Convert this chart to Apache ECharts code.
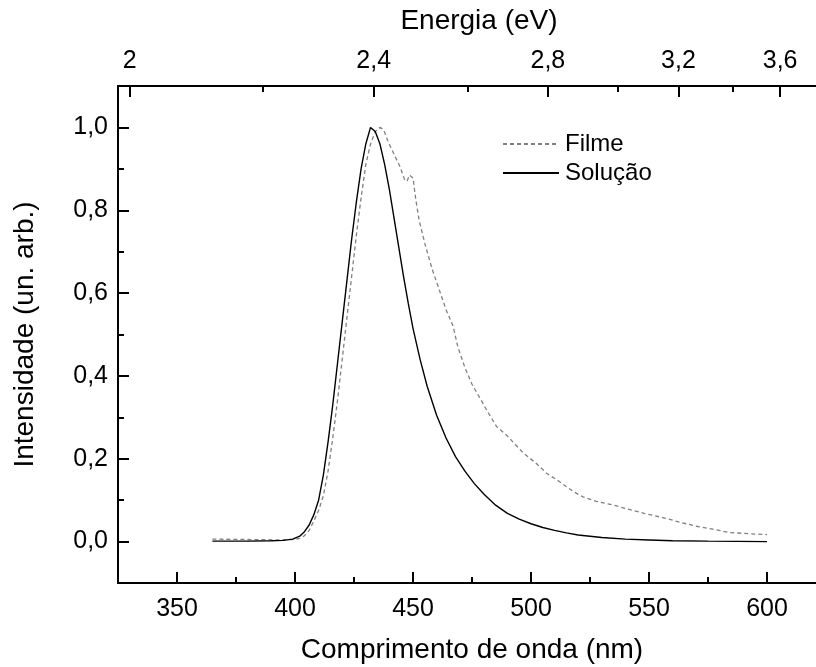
<!DOCTYPE html>
<html>
<head>
<meta charset="utf-8">
<script src="https://cdn.jsdelivr.net/npm/echarts@6/dist/echarts.min.js"></script>
<style>
html,body{margin:0;padding:0;background:#fff;}
#chart{width:816px;height:667px;}
</style>
</head>
<body>
<div id="chart"></div>
<script>
// Wavelength ticks (nm)
var wlMajorTicks = [350, 400, 450, 500, 550, 600];
var wlMinorTicks = [375, 425, 475, 525, 575];
// Energy ticks (eV)
var eMajorTicks = [2, 2.4, 2.8, 3.2, 3.6];
var eMinorTicks = [2.2, 2.6, 3.0, 3.4];
// Intensity ticks
var yMajorTicks = [0, 0.2, 0.4, 0.6, 0.8, 1.0];
var yMinorTicks = [0.1, 0.3, 0.5, 0.7, 0.9];

// Filme (dashed)
var filmeWl = [365, 380, 395, 400, 402, 404, 406, 408, 410, 412, 414, 416, 418, 420, 422, 424, 426, 428, 430, 432, 434, 436, 437.5, 439.5, 442, 444.5, 446.5, 447.5, 448.5, 450, 451.2, 452.6, 455, 458, 461, 464, 467, 469, 472, 475, 478, 482, 485.4, 490, 496.7, 502, 506.6, 512, 517.9, 522, 527.7, 535, 541.9, 548, 555.8, 563, 570, 577, 584, 592, 600];
var filmeI = [0.006, 0.005, 0.004, 0.005, 0.008, 0.014, 0.027, 0.05, 0.075, 0.11, 0.17, 0.25, 0.34, 0.44, 0.54, 0.64, 0.74, 0.83, 0.91, 0.96, 0.99, 1.0, 0.995, 0.965, 0.935, 0.905, 0.873, 0.87, 0.885, 0.878, 0.825, 0.776, 0.72, 0.66, 0.61, 0.56, 0.52, 0.47, 0.42, 0.38, 0.35, 0.31, 0.278, 0.255, 0.214, 0.19, 0.165, 0.145, 0.121, 0.108, 0.097, 0.088, 0.077, 0.068, 0.058, 0.047, 0.037, 0.03, 0.022, 0.019, 0.017];

// Solução (solid)
var solWl = [365, 380, 390, 395, 399, 402, 404, 406, 408, 410, 412, 414, 416, 418, 420, 422, 424, 426, 428, 430, 432, 434, 436, 438, 440, 442, 444, 446, 448, 450, 453, 456, 460, 464, 468, 472, 476, 480, 485, 490, 495, 500, 505, 510, 515, 520, 530, 540, 550, 560, 575, 600];
var solI = [0.001, 0.001, 0.002, 0.003, 0.006, 0.013, 0.024, 0.04, 0.065, 0.10, 0.16, 0.24, 0.33, 0.43, 0.53, 0.63, 0.73, 0.82, 0.90, 0.96, 1.0, 0.99, 0.96, 0.91, 0.85, 0.78, 0.71, 0.64, 0.575, 0.515, 0.44, 0.375, 0.305, 0.25, 0.205, 0.17, 0.14, 0.115, 0.088, 0.068, 0.054, 0.043, 0.034, 0.027, 0.021, 0.016, 0.01, 0.006, 0.004, 0.002, 0.001, 0.0];

var HC = 1240; // eV*nm
function zip(a, b) { return a.map(function (v, i) { return [v, b[i]]; }); }
function energyLabel(v) {
  var r = Math.round(v * 10) / 10;
  return (Number.isInteger(r) ? String(r) : r.toFixed(1)).replace('.', ',');
}
function yLabel(v) { return (Math.round(v * 10) / 10).toFixed(1).replace('.', ','); }

var FONT = '"Liberation Sans", Arial, sans-serif';
var axisLineStyle = { color: '#000', width: 2 };
var tickStyle = { color: '#000', width: 2 };
var XMIN = 325, XMAX = 625;
var GRID_LEFT = 118, GRID_TOP = 86, GRID_W = 708, GRID_H = 497;

function tickAxis(pos, ticks, len, extra) {
  var a = {
    type: 'value', position: pos,
    axisLine: { show: true, onZero: false, lineStyle: { color: '#000', width: 0 } },
    axisTick: { show: true, inside: true, length: len, customValues: ticks, lineStyle: { color: '#000', width: 2 } },
    axisLabel: { show: false },
    splitLine: { show: false }
  };
  for (var k in extra) a[k] = extra[k];
  return a;
}
// bottom-frame ticks: top-side axis of a thin helper grid lying just below the plot, ticks pointing up
function bottomTickAxis(ticks, len) {
  return tickAxis('top', ticks, len, {
    gridIndex: 1, min: XMIN, max: XMAX,
    axisTick: { show: true, inside: false, length: len, customValues: ticks, lineStyle: { color: '#000', width: 2 } }
  });
}

var chart = echarts.init(document.getElementById('chart'));
chart.setOption({
  animation: false,
  backgroundColor: '#fff',
  textStyle: { fontFamily: FONT },
  grid: [
    { left: GRID_LEFT, top: GRID_TOP, width: GRID_W, height: GRID_H, containLabel: false, outerBoundsMode: 'none' },
    { left: GRID_LEFT, top: GRID_TOP + GRID_H, width: GRID_W, height: 20, containLabel: false, outerBoundsMode: 'none', show: false }
  ],
  legend: {
    orient: 'vertical',
    left: 497, top: 127,
    itemWidth: 56, itemHeight: 14, itemGap: 5,
    itemStyle: { opacity: 0 },
    textStyle: { fontSize: 24, color: '#000', fontFamily: FONT, padding: [0, 0, 0, 1] },
    data: ['Filme', 'Solução']
  },
  xAxis: [
    {
      type: 'value', gridIndex: 0, position: 'bottom', min: XMIN, max: XMAX,
      name: 'Comprimento de onda (nm)', nameLocation: 'middle', nameGap: 53,
      nameTextStyle: { fontSize: 28, color: '#000', fontFamily: FONT },
      axisLine: { show: true, onZero: false, lineStyle: axisLineStyle },
      axisTick: { show: true, inside: true, length: 11, customValues: wlMajorTicks, lineStyle: tickStyle },
      axisLabel: { show: true, customValues: wlMajorTicks, fontSize: 25, color: '#000', margin: 14, fontFamily: FONT },
      splitLine: { show: false }
    },
    {
      type: 'value', gridIndex: 0, position: 'top', min: XMIN, max: XMAX, inverse: true,
      name: 'Energia (eV)', nameLocation: 'middle', nameGap: 51,
      nameTextStyle: { fontSize: 28, color: '#000', fontFamily: FONT, padding: [0, 0, 0, 14] },
      axisLine: { show: true, onZero: false, lineStyle: axisLineStyle },
      axisTick: { show: false },
      axisLabel: {
        show: true, customValues: eMajorTicks.map(function (e) { return HC / e; }),
        fontSize: 25, color: '#000', margin: 12, fontFamily: FONT,
        formatter: function (v) { return energyLabel(HC / v); }
      },
      splitLine: { show: false }
    },
    tickAxis('top', eMajorTicks.map(function (e) { return HC / e; }), 11, { gridIndex: 0, min: XMIN, max: XMAX, inverse: true }),
    tickAxis('top', eMinorTicks.map(function (e) { return HC / e; }), 6, { gridIndex: 0, min: XMIN, max: XMAX, inverse: true }),
    bottomTickAxis(wlMajorTicks, 11),
    bottomTickAxis(wlMinorTicks, 6)
  ],
  yAxis: [
    {
      type: 'value', gridIndex: 0, position: 'left', min: -0.1, max: 1.1,
      name: 'Intensidade (un. arb.)', nameLocation: 'middle', nameGap: 79,
      nameTextStyle: { fontSize: 28, color: '#000', fontFamily: FONT },
      axisLine: { show: true, onZero: false, lineStyle: axisLineStyle },
      axisTick: { show: false },
      axisLabel: { show: true, customValues: yMajorTicks, fontSize: 25, color: '#000', margin: 10, fontFamily: FONT, formatter: yLabel },
      splitLine: { show: false }
    },
    tickAxis('left', yMajorTicks, 11, { gridIndex: 0, min: -0.1, max: 1.1 }),
    tickAxis('left', yMinorTicks, 6, { gridIndex: 0, min: -0.1, max: 1.1 }),
    {
      type: 'value', gridIndex: 0, position: 'right', min: -0.1, max: 1.1,
      axisLine: { show: true, onZero: false, lineStyle: axisLineStyle },
      axisTick: { show: false }, axisLabel: { show: false }, splitLine: { show: false }
    },
    {
      type: 'value', gridIndex: 1, position: 'left', min: 0, max: 1,
      axisLine: { show: false, onZero: false },
      axisTick: { show: false }, axisLabel: { show: false }, splitLine: { show: false }
    }
  ],
  series: [
    {
      name: 'Filme', type: 'line', xAxisIndex: 0, yAxisIndex: 0,
      data: zip(filmeWl, filmeI), symbol: 'none', smooth: false,
      lineStyle: { color: '#808080', width: 1.3, type: [4, 3] },
      itemStyle: { color: '#808080' }
    },
    {
      name: 'Solução', type: 'line', xAxisIndex: 0, yAxisIndex: 0,
      data: zip(solWl, solI), symbol: 'none', smooth: false,
      lineStyle: { color: '#000', width: 1.4 },
      itemStyle: { color: '#000' }
    }
  ]
});
</script>
</body>
</html>
